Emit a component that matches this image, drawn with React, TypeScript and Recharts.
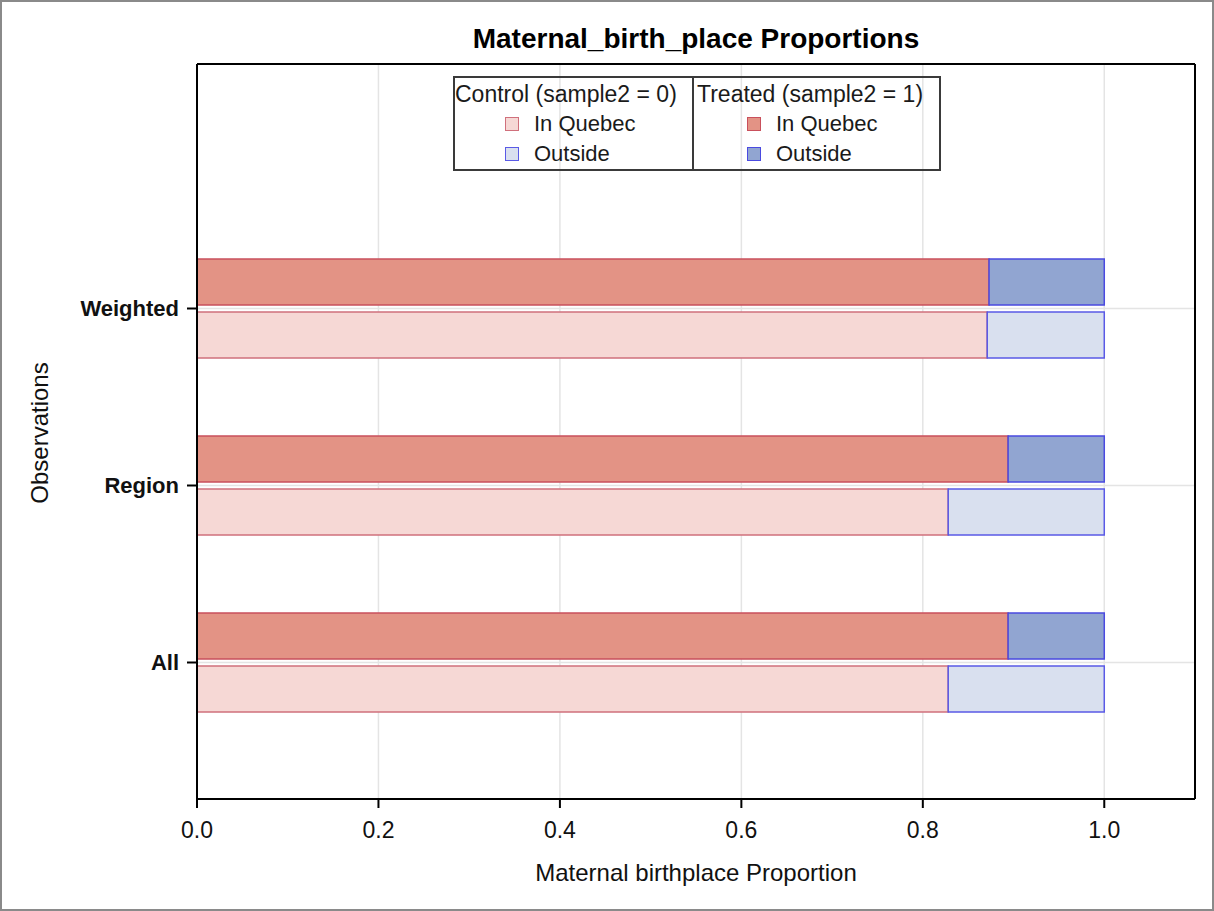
import React from 'react';
import { BarChart, Bar, XAxis, YAxis, CartesianGrid } from 'recharts';

const categories = ['Weighted', 'Region', 'All'];
const treatedInQuebec = [0.873, 0.894, 0.894];
const treatedOutside = [0.127, 0.106, 0.106];
const controlInQuebec = [0.871, 0.828, 0.828];
const controlOutside = [0.129, 0.172, 0.172];
const xTicks = [0, 0.2, 0.4, 0.6, 0.8, 1.0];
const legendGroups = ['Control (sample2 = 0)', 'Treated (sample2 = 1)'];
const legendItems = ['In Quebec', 'Outside'];

const data = categories.map((c, i) => ({
  obs: c,
  tIn: treatedInQuebec[i],
  tOut: treatedOutside[i],
  cIn: controlInQuebec[i],
  cOut: controlOutside[i],
}));

const FONT = '"Liberation Sans", Arial, sans-serif';

const COLORS = {
  tInFill: '#e39385',
  tInStroke: '#c9505c',
  tOutFill: '#91a5d1',
  tOutStroke: '#4a4ae0',
  cInFill: '#f6d8d5',
  cInStroke: '#d0707c',
  cOutFill: '#d9e0ef',
  cOutStroke: '#5a5ae6',
};

const legendSwatches = [
  [
    { fill: COLORS.cInFill, stroke: COLORS.cInStroke },
    { fill: COLORS.cOutFill, stroke: COLORS.cOutStroke },
  ],
  [
    { fill: COLORS.tInFill, stroke: COLORS.tInStroke },
    { fill: COLORS.tOutFill, stroke: COLORS.tOutStroke },
  ],
];

const LegendBox = ({ gi, left, width }: { gi: number; left: number; width: number }) => (
  <div
    style={{
      position: 'absolute',
      left,
      top: 74,
      width,
      height: 95,
      boxSizing: 'border-box',
      border: '2px solid #3a3a3a',
      fontFamily: FONT,
      color: '#1a1a1a',
      whiteSpace: 'nowrap',
      overflow: 'hidden',
    }}
  >
    <div style={{ position: 'absolute', left: gi === 0 ? 0 : 3, top: 2, fontSize: 23, lineHeight: '28px' }}>
      {legendGroups[gi]}
    </div>
    {legendItems.map((label, i) => (
      <div
        key={label}
        style={{
          position: 'absolute',
          left: gi === 0 ? 50 : 53,
          top: 33 + i * 30,
          height: 26,
          display: 'flex',
          alignItems: 'center',
          fontSize: 22,
        }}
      >
        <span
          style={{
            display: 'inline-block',
            width: 12,
            height: 12,
            background: legendSwatches[gi][i].fill,
            border: `1.5px solid ${legendSwatches[gi][i].stroke}`,
            marginRight: 15,
          }}
        />
        <span>{label}</span>
      </div>
    ))}
  </div>
);

export default function App() {
  return (
    <div
      style={{
        position: 'absolute',
        left: 0,
        top: 0,
        width: 1214,
        height: 911,
        background: '#fff',
        boxSizing: 'border-box',
        border: '2px solid #8a8a8a',
        fontFamily: FONT,
      }}
    >
      <div style={{ position: 'absolute', left: -2, top: -2 }}>
        <BarChart
          width={1214}
          height={911}
          data={data}
          layout="vertical"
          margin={{ top: 63, right: 18, bottom: 0, left: 0 }}
          barSize={46}
          barGap={7}
        >
          <CartesianGrid stroke="#e4e4e4" strokeWidth={1.5} vertical horizontal />
          <XAxis
            type="number"
            domain={[0, 1.1]}
            ticks={xTicks}
            tickFormatter={(v: number) => v.toFixed(1)}
            height={112}
            tick={{ fill: '#111', fontSize: 23, fontFamily: FONT }}
            tickLine={{ stroke: '#000', strokeWidth: 2 }}
            tickSize={9}
            tickMargin={14}
            axisLine={{ stroke: '#000', strokeWidth: 2 }}
            label={{
              value: 'Maternal birthplace Proportion',
              position: 'insideBottom',
              offset: 30,
              fill: '#111',
              fontSize: 24,
              fontFamily: FONT,
            }}
          />
          <XAxis
            xAxisId="top"
            orientation="top"
            type="number"
            domain={[0, 1.1]}
            height={1}
            tick={false}
            tickLine={false}
            axisLine={{ stroke: '#000', strokeWidth: 2 }}
          />
          <YAxis
            type="category"
            dataKey="obs"
            width={197}
            padding={{ top: 156, bottom: 48 }}
            tick={{ fill: '#111', fontSize: 22, fontWeight: 'bold', fontFamily: FONT }}
            tickLine={{ stroke: '#000', strokeWidth: 2 }}
            tickSize={10}
            tickMargin={8}
            axisLine={{ stroke: '#000', strokeWidth: 2 }}
          />
          <YAxis
            yAxisId="right"
            orientation="right"
            type="category"
            dataKey="obs"
            width={1}
            tick={false}
            tickLine={false}
            axisLine={{ stroke: '#000', strokeWidth: 2 }}
          />
          <Bar dataKey="tIn" stackId="t" fill={COLORS.tInFill} stroke={COLORS.tInStroke} strokeWidth={1.5} isAnimationActive={false} />
          <Bar dataKey="tOut" stackId="t" fill={COLORS.tOutFill} stroke={COLORS.tOutStroke} strokeWidth={1.5} isAnimationActive={false} />
          <Bar dataKey="cIn" stackId="c" fill={COLORS.cInFill} stroke={COLORS.cInStroke} strokeWidth={1.5} isAnimationActive={false} />
          <Bar dataKey="cOut" stackId="c" fill={COLORS.cOutFill} stroke={COLORS.cOutStroke} strokeWidth={1.5} isAnimationActive={false} />
        </BarChart>
      </div>
      <div
        style={{
          position: 'absolute',
          left: 194,
          width: 1000,
          top: 21,
          textAlign: 'center',
          fontWeight: 'bold',
          fontSize: 28,
          color: '#000',
          fontFamily: FONT,
        }}
      >
        Maternal_birth_place Proportions
      </div>
      <div
        style={{
          position: 'absolute',
          left: 38,
          top: 431,
          transform: 'translate(-50%, -50%) rotate(-90deg)',
          fontSize: 24,
          color: '#111',
          whiteSpace: 'nowrap',
        }}
      >
        Observations
      </div>
      <LegendBox gi={0} left={451} width={241} />
      <LegendBox gi={1} left={690} width={249} />
    </div>
  );
}
